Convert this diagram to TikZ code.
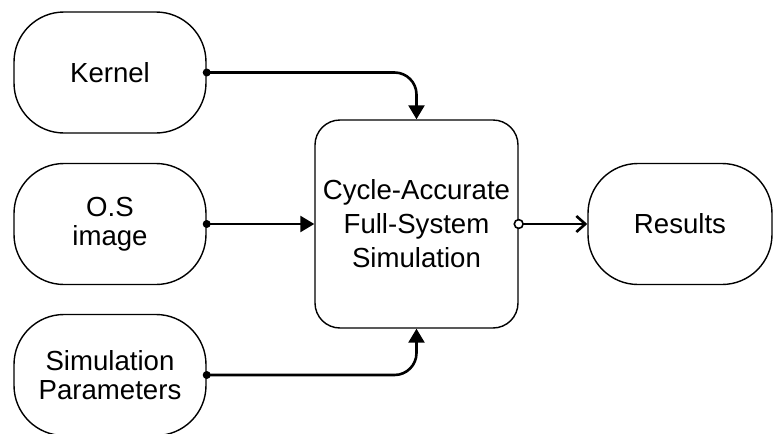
\documentclass[tikz,border=0pt]{standalone}
\usepackage{fontspec}
\setmainfont{Liberation Sans}
\usetikzlibrary{positioning, arrows.meta, calc}

\begin{document}
\begin{tikzpicture}[x=0.5pt,y=-0.5pt,
        pill/.style={draw, line width=0.7pt, rounded corners=25pt, minimum width=96pt, minimum height=60.5pt, align=center, font=\fontsize{13.8}{14.5}\selectfont},
        corebox/.style={draw, line width=0.7pt, rounded corners=12.5pt, minimum width=101.5pt, minimum height=104pt, align=center, font=\fontsize{13.8}{17}\selectfont},
        feed/.style={line width=1.3pt, rounded corners=11pt, -{Triangle[length=7pt,width=8pt]}},
        outlink/.style={line width=1.3pt, -{Straight Barb[length=4.5pt,width=8pt]}}]
            \useasboundingbox (0,0) rectangle (773,434);
            \node[pill] (kernel) at (110,72.5) {Kernel};
            \node[pill] (osimg) at (110,224) {O.S\\image};
            \node[pill] (simpar) at (110,375) {Simulation\\Parameters};
            \node[corebox] (core) at (416.5,224) {Cycle-Accurate\\Full-System\\Simulation};
            \node[pill, minimum width=92pt] (results) at (680,224) {Results};
            \draw[feed] (kernel.east) -| (core.north);
            \draw[feed] (osimg.east) -- (core.west);
            \draw[feed] (simpar.east) -| (core.south);
            \draw[outlink] (core.east) -- (results.west);
            \foreach \n in {kernel,osimg,simpar}{
                \fill (\n.east) circle (2pt);
            }
            \draw[line width=0.8pt, fill=white] (core.east) circle (2.2pt);
        \end{tikzpicture}
\end{document}
